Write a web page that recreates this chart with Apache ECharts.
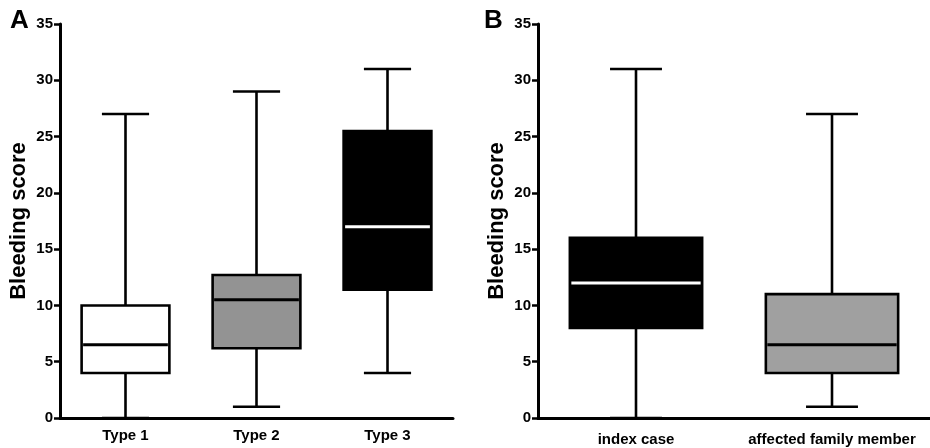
<!DOCTYPE html>
<html>
<head>
<meta charset="utf-8">
<script src="https://cdn.jsdelivr.net/npm/echarts@6/dist/echarts.min.js"></script>
<style>
html,body{margin:0;padding:0;background:#fff;}
#chart{width:930px;height:448px;}
</style>
</head>
<body>
<div id="chart"></div>
<script>
// ---- Data ----
var categoriesA = ['Type 1', 'Type 2', 'Type 3'];
// [min, Q1, median, Q3, max]
var boxA_type1 = [0, 4, 6.5, 10, 27];
var boxA_type2 = [1, 6.2, 10.5, 12.7, 29];
var boxA_type3 = [4, 11.4, 17, 25.5, 31];

var categoriesB = ['index case', 'affected family member'];
var boxB_index = [0, 8, 12, 16, 31];
var boxB_family = [1, 4, 6.5, 11, 27];

var yTicks = [0, 5, 10, 15, 20, 25, 30, 35];
var yAxisTitle = 'Bleeding score';

// ---- Styles ----
var fillA = ['#ffffff', '#939393', '#000000'];
var medianA = ['#000000', '#000000', '#ffffff'];
var fillB = ['#000000', '#a0a0a0'];
var medianB = ['#ffffff', '#000000'];

var FONT = '"Liberation Sans", Arial, Helvetica, sans-serif';

function makeRender(fills, medians, boxRatio, capRatio) {
  return function (params, api) {
    var xi = api.value(0);
    var vmin = api.value(1), q1 = api.value(2), med = api.value(3), q3 = api.value(4), vmax = api.value(5);
    var band = api.size([1, 0])[0];
    var bw = band * boxRatio, cw = band * capRatio;
    var pMin = api.coord([xi, vmin]);
    var pQ1 = api.coord([xi, q1]);
    var pMed = api.coord([xi, med]);
    var pQ3 = api.coord([xi, q3]);
    var pMax = api.coord([xi, vmax]);
    var cx = pMin[0];
    var lineStyle = { stroke: '#000', lineWidth: 2.6 };
    return {
      type: 'group',
      children: [
        { type: 'line', shape: { x1: cx, y1: pMin[1], x2: cx, y2: pQ1[1] }, style: lineStyle },
        { type: 'line', shape: { x1: cx, y1: pQ3[1], x2: cx, y2: pMax[1] }, style: lineStyle },
        { type: 'line', shape: { x1: cx - cw / 2, y1: pMin[1], x2: cx + cw / 2, y2: pMin[1] }, style: lineStyle },
        { type: 'line', shape: { x1: cx - cw / 2, y1: pMax[1], x2: cx + cw / 2, y2: pMax[1] }, style: lineStyle },
        { type: 'rect', shape: { x: cx - bw / 2, y: pQ3[1], width: bw, height: pQ1[1] - pQ3[1] },
          style: { fill: fills[params.dataIndex], stroke: '#000', lineWidth: 2.6 } },
        { type: 'line', shape: { x1: cx - bw / 2 + 1.5, y1: pMed[1], x2: cx + bw / 2 - 1.5, y2: pMed[1] },
          style: { stroke: medians[params.dataIndex], lineWidth: 3 } }
      ]
    };
  };
}

function toItems(arr) {
  return arr.map(function (b, i) { return [i].concat(b); });
}

var yAxisCommon = {
  type: 'value', min: yTicks[0], max: yTicks[yTicks.length - 1], interval: 5,
  name: yAxisTitle, nameLocation: 'middle', nameGap: 30, nameRotate: 90,
  nameTextStyle: { fontFamily: FONT, fontWeight: 'bold', fontSize: 22, color: '#000' },
  axisLine: { show: true, lineStyle: { color: '#000', width: 3 } },
  axisTick: { show: true, inside: false, length: 6, lineStyle: { color: '#000', width: 2.5 } },
  axisLabel: { fontFamily: FONT, fontWeight: 'bold', fontSize: 15, color: '#000', margin: 7 },
  splitLine: { show: false }
};

var chart = echarts.init(document.getElementById('chart'), null, { renderer: 'canvas' });
chart.setOption({
  animation: false,
  backgroundColor: '#fff',
  grid: [
    { left: 60, top: 24, width: 393, height: 394 },
    { left: 538, top: 24, width: 394, height: 394 }
  ],
  xAxis: [
    { type: 'category', gridIndex: 0, data: categoriesA,
      axisLine: { lineStyle: { color: '#000', width: 3 } }, axisTick: { show: false },
      axisLabel: { interval: 0, hideOverlap: false, fontFamily: FONT, fontWeight: 'bold', fontSize: 15, color: '#000', margin: 10 } },
    { type: 'category', gridIndex: 1, data: categoriesB,
      axisLine: { lineStyle: { color: '#000', width: 3 } }, axisTick: { show: false },
      axisLabel: { interval: 0, hideOverlap: false, fontFamily: FONT, fontWeight: 'bold', fontSize: 15, color: '#000', margin: 14 } }
  ],
  yAxis: [
    Object.assign({ gridIndex: 0 }, yAxisCommon),
    Object.assign({ gridIndex: 1 }, yAxisCommon)
  ],
  graphic: [
    { type: 'text', left: 10, top: 8, style: { text: 'A', font: 'bold 26px ' + FONT, fill: '#000' } },
    { type: 'text', left: 484, top: 8, style: { text: 'B', font: 'bold 26px ' + FONT, fill: '#000' } }
  ],
  series: [
    { type: 'custom', xAxisIndex: 0, yAxisIndex: 0,
      renderItem: makeRender(fillA, medianA, 0.67, 0.36),
      encode: { x: 0, y: [1, 2, 3, 4, 5] },
      data: toItems([boxA_type1, boxA_type2, boxA_type3]) },
    { type: 'custom', xAxisIndex: 1, yAxisIndex: 1,
      renderItem: makeRender(fillB, medianB, 0.675, 0.265),
      encode: { x: 0, y: [1, 2, 3, 4, 5] },
      data: toItems([boxB_index, boxB_family]) }
  ]
});
</script>
</body>
</html>
